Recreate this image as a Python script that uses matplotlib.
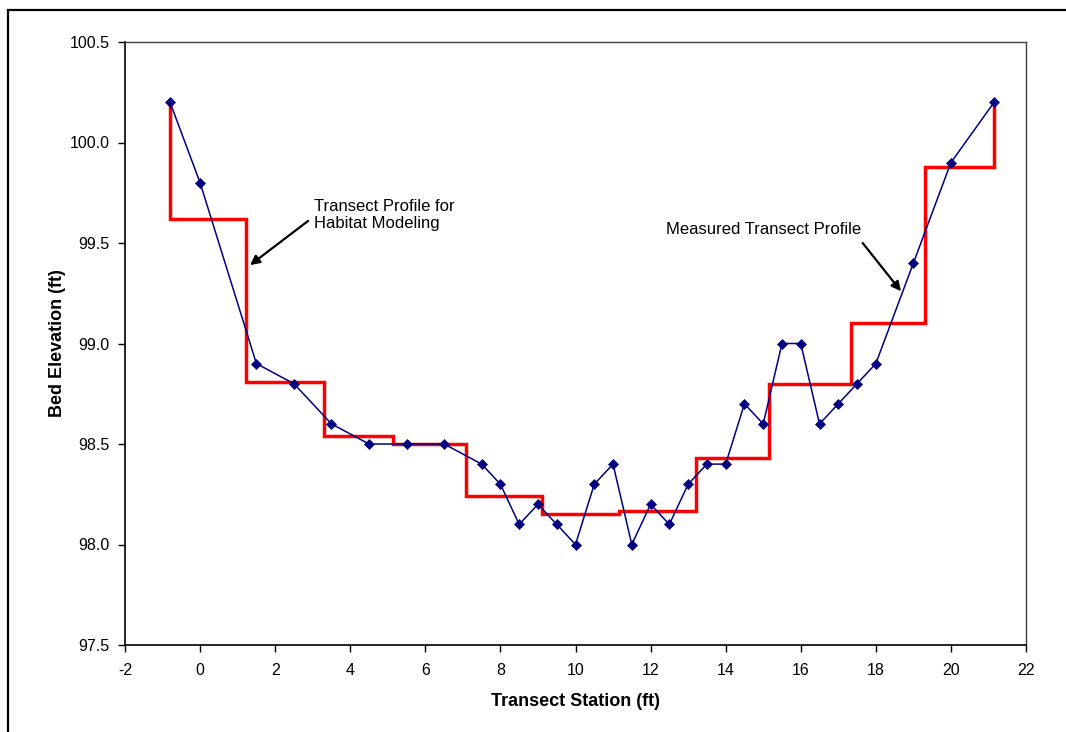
import matplotlib
matplotlib.use("Agg")
from matplotlib import pyplot
from matplotlib.patches import Rectangle

# measured transect profile
station = [-0.8, 0, 1.5, 2.5, 3.5, 4.5, 5.5, 6.5, 7.5, 8, 8.5, 9, 9.5, 10, 10.5, 11,
           11.5, 12, 12.5, 13, 13.5, 14, 14.5, 15, 15.5, 16, 16.5, 17, 17.5, 18,
           19, 20, 21.15]
elevation = [100.2, 99.8, 98.9, 98.8, 98.6, 98.5, 98.5, 98.5, 98.4, 98.3, 98.1, 98.2,
             98.1, 98.0, 98.3, 98.4, 98.0, 98.2, 98.1, 98.3, 98.4, 98.4, 98.7, 98.6,
             99.0, 99.0, 98.6, 98.7, 98.8, 98.9, 99.4, 99.9, 100.2]

# habitat modeling cells (step profile)
cell_edges = [-0.8, 1.23, 3.3, 5.15, 7.07, 9.12, 11.15, 13.2, 15.15, 17.33, 19.31, 21.15]
cell_levels = [99.62, 98.81, 98.54, 98.50, 98.24, 98.15, 98.165, 98.43, 98.80, 99.10, 99.88]
end_elevation = [100.2, 100.2]

xticks = list(range(-2, 23, 2))
yticks = [97.5, 98.0, 98.5, 99.0, 99.5, 100.0, 100.5]

pyplot.rcParams.update({"font.family": ["Liberation Sans", "DejaVu Sans"],
                        "font.size": 11.5,
                        "axes.unicode_minus": False})

fig = pyplot.figure(figsize=(10.66, 7.32), dpi=100)
fig.patch.set_facecolor("white")
ax = fig.add_axes([125 / 1066, 1 - 645 / 732, 901 / 1066, 603 / 732])

# build the step path from the cells
step_x = [cell_edges[0]]
step_y = [end_elevation[0]]
for i, level in enumerate(cell_levels):
    step_x += [cell_edges[i], cell_edges[i + 1]]
    step_y += [level, level]
step_x.append(cell_edges[-1])
step_y.append(end_elevation[1])

ax.plot(step_x, step_y, color="#FF0000", lw=2.5, solid_joinstyle="miter", zorder=2)
ax.plot(station, elevation, color="#000080", lw=1.1, marker="D", markersize=5,
        markeredgewidth=0.5, zorder=3)

ax.set_xlim(-2, 22)
ax.set_ylim(97.5, 100.5)
ax.set_xticks(xticks)
ax.set_yticks(yticks)
ax.set_yticklabels(["{:.1f}".format(v) for v in yticks])
ax.tick_params(direction="out", length=5, width=1, labelsize=11.5)
ax.tick_params(axis="x", pad=8)
ax.tick_params(axis="y", pad=6)

for side in ["left", "bottom"]:
    ax.spines[side].set_linewidth(1.2)
    ax.spines[side].set_color("black")
for side in ["top", "right"]:
    ax.spines[side].set_linewidth(1.0)
    ax.spines[side].set_color("#404040")

ax.set_xlabel("Transect Station (ft)", fontweight="bold", fontsize=13, labelpad=11)
ax.set_ylabel("Bed Elevation (ft)", fontweight="bold", fontsize=13, labelpad=3)

arrow = dict(arrowstyle="-|>", color="black", lw=1.6, mutation_scale=14, shrinkA=0, shrinkB=0)
ax.annotate("", xy=(1.33, 99.39), xytext=(2.88, 99.61), arrowprops=arrow)
ax.text(3.03, 99.64, "Transect Profile for\nHabitat Modeling", ha="left", va="center",
        fontsize=12, linespacing=1.15)
ax.annotate("", xy=(18.67, 99.26), xytext=(17.65, 99.5), arrowprops=arrow)
ax.text(12.4, 99.565, "Measured Transect Profile", ha="left", va="center", fontsize=12)

# outer chart border
fig.patches.append(Rectangle((8 / 1066, -0.1), 1.2, 1 - 10 / 732 + 0.1,
                             transform=fig.transFigure, fill=False,
                             edgecolor="black", lw=1.6))

fig.savefig("out.png", dpi=100)
